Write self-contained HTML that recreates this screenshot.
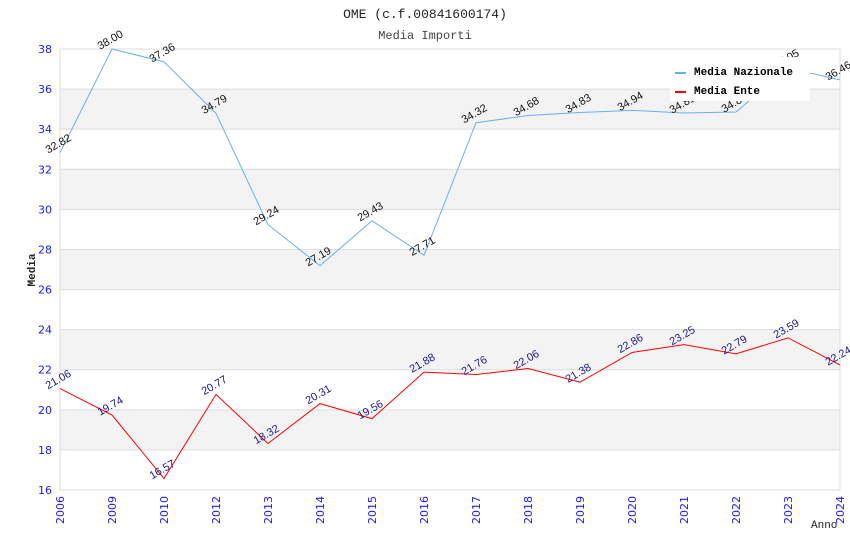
<!DOCTYPE html>
<html><head><meta charset="utf-8"><style>
body{margin:0;background:#fff;font-family:"Liberation Mono",monospace}
</style></head><body>
<svg id="chart" width="850" height="550" xmlns="http://www.w3.org/2000/svg">
<text x="425" y="18" text-anchor="middle" font-family="Liberation Mono" font-size="13" fill="#222">OME (c.f.00841600174)</text>
<text x="425" y="39" text-anchor="middle" font-family="Liberation Mono" font-size="12" fill="#444">Media Importi</text>
<g id="bands"></g><g id="grid"></g>
<rect x="60" y="49" width="780" height="441" fill="none" stroke="#ddd"/>
<g id="yticks"></g><g id="xticks"></g>
<g id="series"></g>
<text transform="translate(35,270) rotate(-90)" text-anchor="middle" font-family="Liberation Mono" font-size="11" font-weight="bold" fill="#222">Media</text>
<text x="811" y="528" font-family="Liberation Mono" font-size="11" fill="#222">Anno</text>
<g>
<rect x="670" y="57" width="140" height="44" fill="#fff"/>
<rect x="675" y="72" width="11" height="2" fill="#6aaff0"/>
<text x="694" y="75" font-family="Liberation Mono" font-size="11" font-weight="bold" fill="#000">Media Nazionale</text>
<rect x="675" y="91" width="11" height="2" fill="#ff0000"/>
<text x="694" y="94" font-family="Liberation Mono" font-size="11" font-weight="bold" fill="#000">Media Ente</text>
</g>
</svg>
<script>
const categories=["2006","2009","2010","2012","2013","2014","2015","2016","2017","2018","2019","2020","2021","2022","2023","2024"];
const nazionale=[32.82,38.00,37.36,34.79,29.24,27.19,29.43,27.71,34.32,34.68,34.83,34.94,34.81,34.86,37.05,36.46];
const ente=[21.06,19.74,16.57,20.77,18.32,20.31,19.56,21.88,21.76,22.06,21.38,22.86,23.25,22.79,23.59,22.24];
const yTicks=[16,18,20,22,24,26,28,30,32,34,36,38];
const NS="http://www.w3.org/2000/svg";
const x0=60,x1=840,y0=490,y1=49,ymin=16,ymax=38;
const xs=i=>x0+i*(x1-x0)/(categories.length-1);
const ys=v=>y0-(v-ymin)/(ymax-ymin)*(y0-y1);
function mk(t,a,p){const e=document.createElementNS(NS,t);for(const k in a)e.setAttribute(k,a[k]);p.appendChild(e);return e;}
const bands=document.getElementById('bands'),grid=document.getElementById('grid'),yt=document.getElementById('yticks'),xt=document.getElementById('xticks'),ser=document.getElementById('series');
for(let i=0;i<yTicks.length;i++){
  const v=yTicks[i];
  if(i%2===1&&i<yTicks.length-1){const r=mk('rect',{x:x0,y:ys(yTicks[i+1]),width:x1-x0,height:ys(v)-ys(yTicks[i+1]),fill:'#f3f3f3'},bands);
  
  }
  const l=mk('line',{x1:x0,x2:x1,y1:ys(v),y2:ys(v),stroke:'#ddd'},grid);
  
  
  const t=mk('text',{x:52,y:ys(v)+4,'text-anchor':'end','font-family':'DejaVu Sans','font-size':11,fill:'#1a1aff'},yt);
  
  
  t.textContent=v;
}
categories.forEach((c,i)=>{
  const t=mk('text',{transform:`translate(${xs(i)+4},${y0+6}) rotate(-90)`,'text-anchor':'end','font-family':'DejaVu Sans','font-size':11,fill:'#1a1aff'},xt);
  
  
  t.textContent=c;
});
function draw(vals,color,lab,name){
  const p=mk('polyline',{points:vals.map((v,i)=>xs(i)+','+ys(v)).join(' '),fill:'none',stroke:color,'stroke-width':1},ser);
  
  
  vals.forEach((v,i)=>{
    const t=mk('text',{transform:`translate(${xs(i)},${ys(v)-6}) rotate(-30)`,'text-anchor':'middle','font-family':'Liberation Sans','font-size':11,fill:lab},ser);
    
    
    t.textContent=v.toFixed(2);
  });
}
draw(nazionale,'#6aaff0','#111','nazionale');
draw(ente,'#ff0000','#1a1a8c','ente');
</script>
</body></html>
